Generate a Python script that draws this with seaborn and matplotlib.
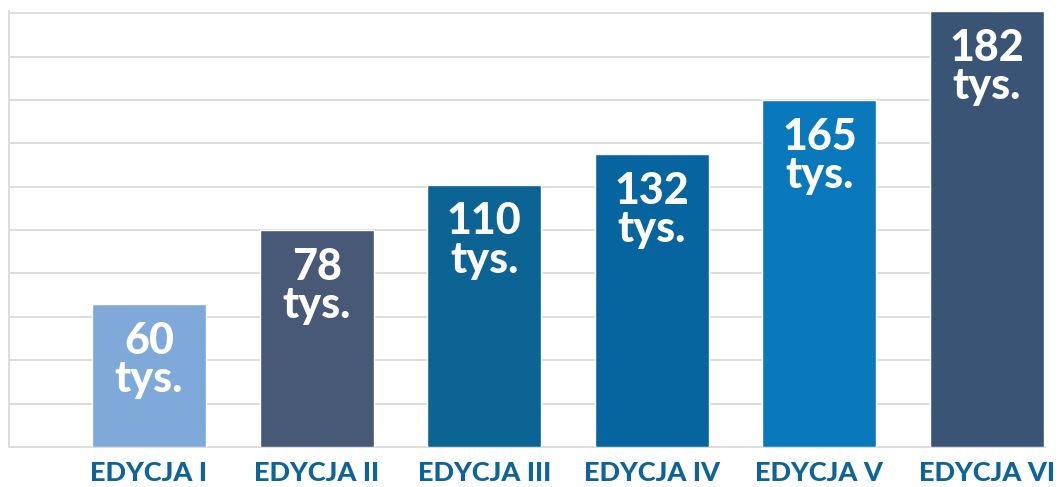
import matplotlib
matplotlib.use("Agg")
import matplotlib.pyplot as plt
import seaborn as sns
import pandas as pd

categories = ["EDYCJA I", "EDYCJA II", "EDYCJA III", "EDYCJA IV", "EDYCJA V", "EDYCJA VI"]
bar_heights = [66, 100, 121, 135, 160, 201]
value_labels = ["60\ntys.", "78\ntys.", "110\ntys.", "132\ntys.", "165\ntys.", "182\ntys."]
bar_colors = ["#7EA9D9", "#485877", "#0B6493", "#06649E", "#0A79BC", "#3A5476"]

sns.set_theme(style="white")
plt.rcParams["font.family"] = ["Lato", "DejaVu Sans"]

df = pd.DataFrame({"cat": categories, "val": bar_heights})

fig = plt.figure(figsize=(10.64, 4.87), dpi=100)
ax = fig.add_axes([9/1064, 40/487, (1045-9)/1064, (447-11)/487])

sns.barplot(data=df, x="cat", y="val", hue="cat", palette=bar_colors,
            legend=False, width=0.68, saturation=1, ax=ax, zorder=3)

ax.set_ylim(0, 201)
ax.set_xlim(-0.835, 5.346)
ax.set_yticks(range(0, 201, 20))
ax.set_yticklabels([])
ax.grid(axis="y", color="#DDDDDD", linewidth=1.4, zorder=0)
ax.set_axisbelow(True)
for s in ["top", "right"]:
    ax.spines[s].set_visible(False)
for s in ["left", "bottom"]:
    ax.spines[s].set_color("#DDDDDD")
    ax.spines[s].set_linewidth(1.4)
ax.tick_params(axis="both", length=0)
ax.set_xlabel("")
ax.set_ylabel("")
for lbl in ax.get_xticklabels():
    lbl.set_fontsize(19.5)
    lbl.set_fontweight(900)
    lbl.set_color("#0E6496")
ax.tick_params(axis="x", pad=10)

for i, (h, t) in enumerate(zip(bar_heights, value_labels)):
    ax.annotate(t, xy=(i, h), xytext=(0, -12), textcoords="offset points",
                ha="center", va="top", color="white", fontsize=31,
                fontweight=900, linespacing=0.95, zorder=5)

fig.savefig("out.png", dpi=100)
